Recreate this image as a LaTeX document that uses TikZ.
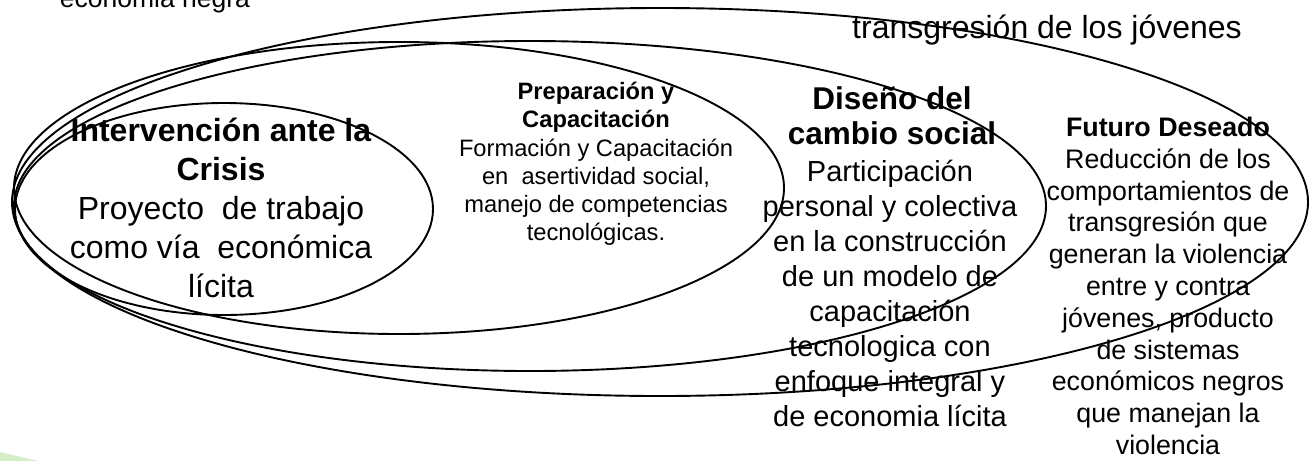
\documentclass[tikz,border=0pt]{standalone}
\usepackage{fontspec}
\setmainfont{Liberation Sans}
\usetikzlibrary{shapes.geometric}
\definecolor{greenbit}{RGB}{214,238,200}
\begin{document}
\begin{tikzpicture}[x=1pt,y=-1pt,
  ring/.style={draw=black, line width=1.9pt, ellipse, inner sep=0pt},
  txt/.style={align=center, inner sep=0pt, text=black}]
\useasboundingbox (0,0) rectangle (1312,461);
\fill[white] (0,0) rectangle (1312,461);
\fill[greenbit] (0,452) -- (38,461) -- (0,461) -- cycle;
% ellipses
\node[ring, minimum width=1296pt, minimum height=388pt] (e4) at (660,202) {};
\node[ring, minimum width=1032pt, minimum height=330pt] (e3) at (530,206) {};
\node[ring, minimum width=770pt, minimum height=292pt] (e2) at (399,188) {};
\node[ring, minimum width=418pt, minimum height=212pt] (e1) at (224,209) {};
% texts
\node[txt, font=\fontsize{32}{39}\selectfont] (t1) at (221,208)
  {\textbf{Intervención ante la}\\\textbf{Crisis}\\Proyecto\ \ de trabajo\\como vía\ \ económica\\lícita};
\node[txt, font=\fontsize{23.7}{28.2}\selectfont] (t2) at (596,164)
  {\textbf{Preparación y}\\\textbf{Capacitación}\\Formación y Capacitación\\en\ \ asertividad social,\\manejo de competencias\\tecnológicas.};
\node[txt, font=\bfseries\fontsize{31.5}{35}\selectfont] (h3) at (892,116)
  {Diseño del\\cambio social};
\node[txt, font=\fontsize{29}{35}\selectfont] (t3) at (890,293)
  {Participación\\personal y colectiva\\en la construcción\\de un modelo de\\capacitación\\tecnologica con\\enfoque integral y\\de economia lícita};
\node[txt, font=\fontsize{26.8}{31.8}\selectfont] (t4) at (1168,286)
  {\textbf{Futuro Deseado}\\Reducción de los\\comportamientos de\\transgresión que\\generan la violencia\\entre y contra\\jóvenes, producto\\de sistemas\\económicos negros\\que manejan la\\violencia};
\node[txt, font=\fontsize{26.5}{32}\selectfont, anchor=base] (t0) at (155,7) {economia negra};
\node[txt, font=\fontsize{32}{39}\selectfont, anchor=base] (t5) at (1047,38.5) {transgresión de los jóvenes};
\end{tikzpicture}
\end{document}
